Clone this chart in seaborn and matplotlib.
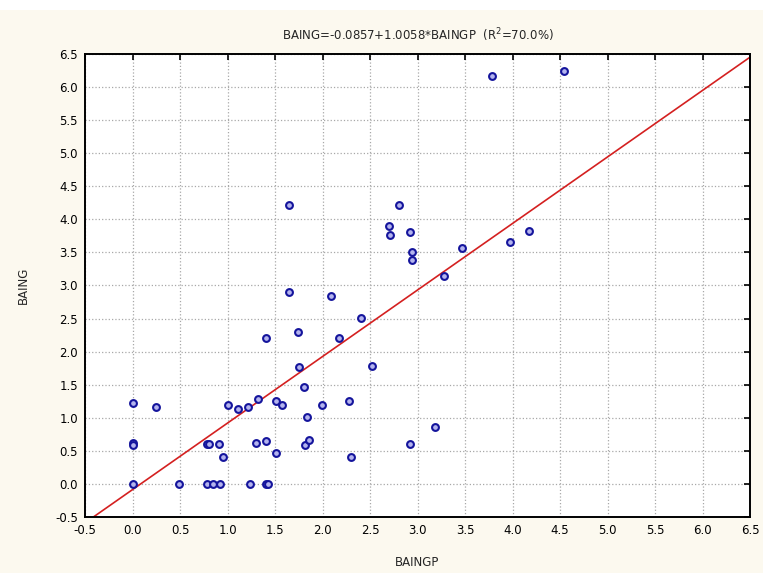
import matplotlib
matplotlib.use("Agg")
import matplotlib.pyplot as plt
import pandas as pd
import seaborn as sns
import numpy as np

sns.set_style("white")
plt.rcParams['font.family'] = ['DejaVu Sans']

# datos
baingp = [0.0, 0.485, 0.78, 0.845, 0.925, 1.235, 1.405, 1.43,
          0.0, 0.0, 0.78, 0.81, 0.91, 0.95, 1.30, 1.405, 1.51, 1.82, 1.86, 2.30, 2.92, 3.18,
          1.84, 0.0, 0.245, 1.01, 1.115, 1.22, 1.32, 1.51, 1.57, 1.99, 2.28,
          1.80, 1.75, 2.52, 1.405, 2.17, 1.74, 2.40, 2.09, 1.65,
          3.28, 2.94, 2.94, 3.47, 3.97, 2.715, 2.92, 4.17, 2.70, 1.65, 2.80,
          3.78, 4.54]
baing = [0.0, 0.0, 0.0, 0.0, 0.0, 0.0, 0.0, 0.0,
         0.62, 0.59, 0.60, 0.60, 0.60, 0.41, 0.62, 0.65, 0.47, 0.59, 0.66, 0.41, 0.60, 0.86,
         1.01, 1.22, 1.16, 1.19, 1.14, 1.16, 1.29, 1.25, 1.19, 1.19, 1.25,
         1.465, 1.77, 1.79, 2.21, 2.21, 2.30, 2.51, 2.84, 2.905,
         3.14, 3.38, 3.51, 3.56, 3.66, 3.77, 3.81, 3.83, 3.90, 4.22, 4.22,
         6.17, 6.24]

intercepto = -0.0857
pendiente = 1.0058
r2 = 70.0

ticks = [-0.5, 0.0, 0.5, 1.0, 1.5, 2.0, 2.5, 3.0, 3.5, 4.0, 4.5, 5.0, 5.5, 6.0, 6.5]

df = pd.DataFrame({'BAINGP': baingp, 'BAING': baing})

fig = plt.figure(figsize=(7.63, 5.73), dpi=100, facecolor='#fcf9ef')
# franja blanca arriba
fig.patches.append(plt.Rectangle((0, 1 - 10 / 573), 1, 10 / 573, transform=fig.transFigure,
                                 facecolor='white', edgecolor='none', zorder=0))
ax = fig.add_axes([0.1114, 0.0977, 0.8716, 0.8081])
ax.set_facecolor('white')

# recta de regresion
xl = np.array([ticks[0], ticks[-1]])
linea = pd.DataFrame({'x': xl, 'y': intercepto + pendiente * xl})
sns.lineplot(ax=ax, data=linea, x='x', y='y', color='#d42020', linewidth=1.2, zorder=2)

sns.scatterplot(ax=ax, data=df, x='BAINGP', y='BAING', s=24,
                facecolor='#b4b4ee', edgecolor='#14149c', linewidth=1.5, zorder=3)

ax.set_xlim(-0.5, 6.5)
ax.set_ylim(-0.5, 6.5)
ax.set_xticks(ticks)
ax.set_yticks(ticks)
ax.set_xticklabels(['%.1f' % t for t in ticks])
ax.set_yticklabels(['%.1f' % t for t in ticks])
ax.grid(True, linestyle=':', color='#a8a8a8', linewidth=0.9)
ax.tick_params(direction='in', top=True, right=True, length=4, width=1.2,
               labelsize=8.5, colors='black', pad=5)
for s in ax.spines.values():
    s.set_visible(True)
    s.set_color('black')
    s.set_linewidth(1.4)

ax.set_xlabel('BAINGP', fontsize=8.5, labelpad=14)
ax.set_ylabel('BAING', fontsize=8.5, labelpad=18)
ax.set_title('BAING=-0.0857+1.0058*BAINGP  (R$^2$=%.1f%%)' % r2, fontsize=8.5, pad=10)

fig.savefig('out.png', dpi=100, facecolor=fig.get_facecolor())
